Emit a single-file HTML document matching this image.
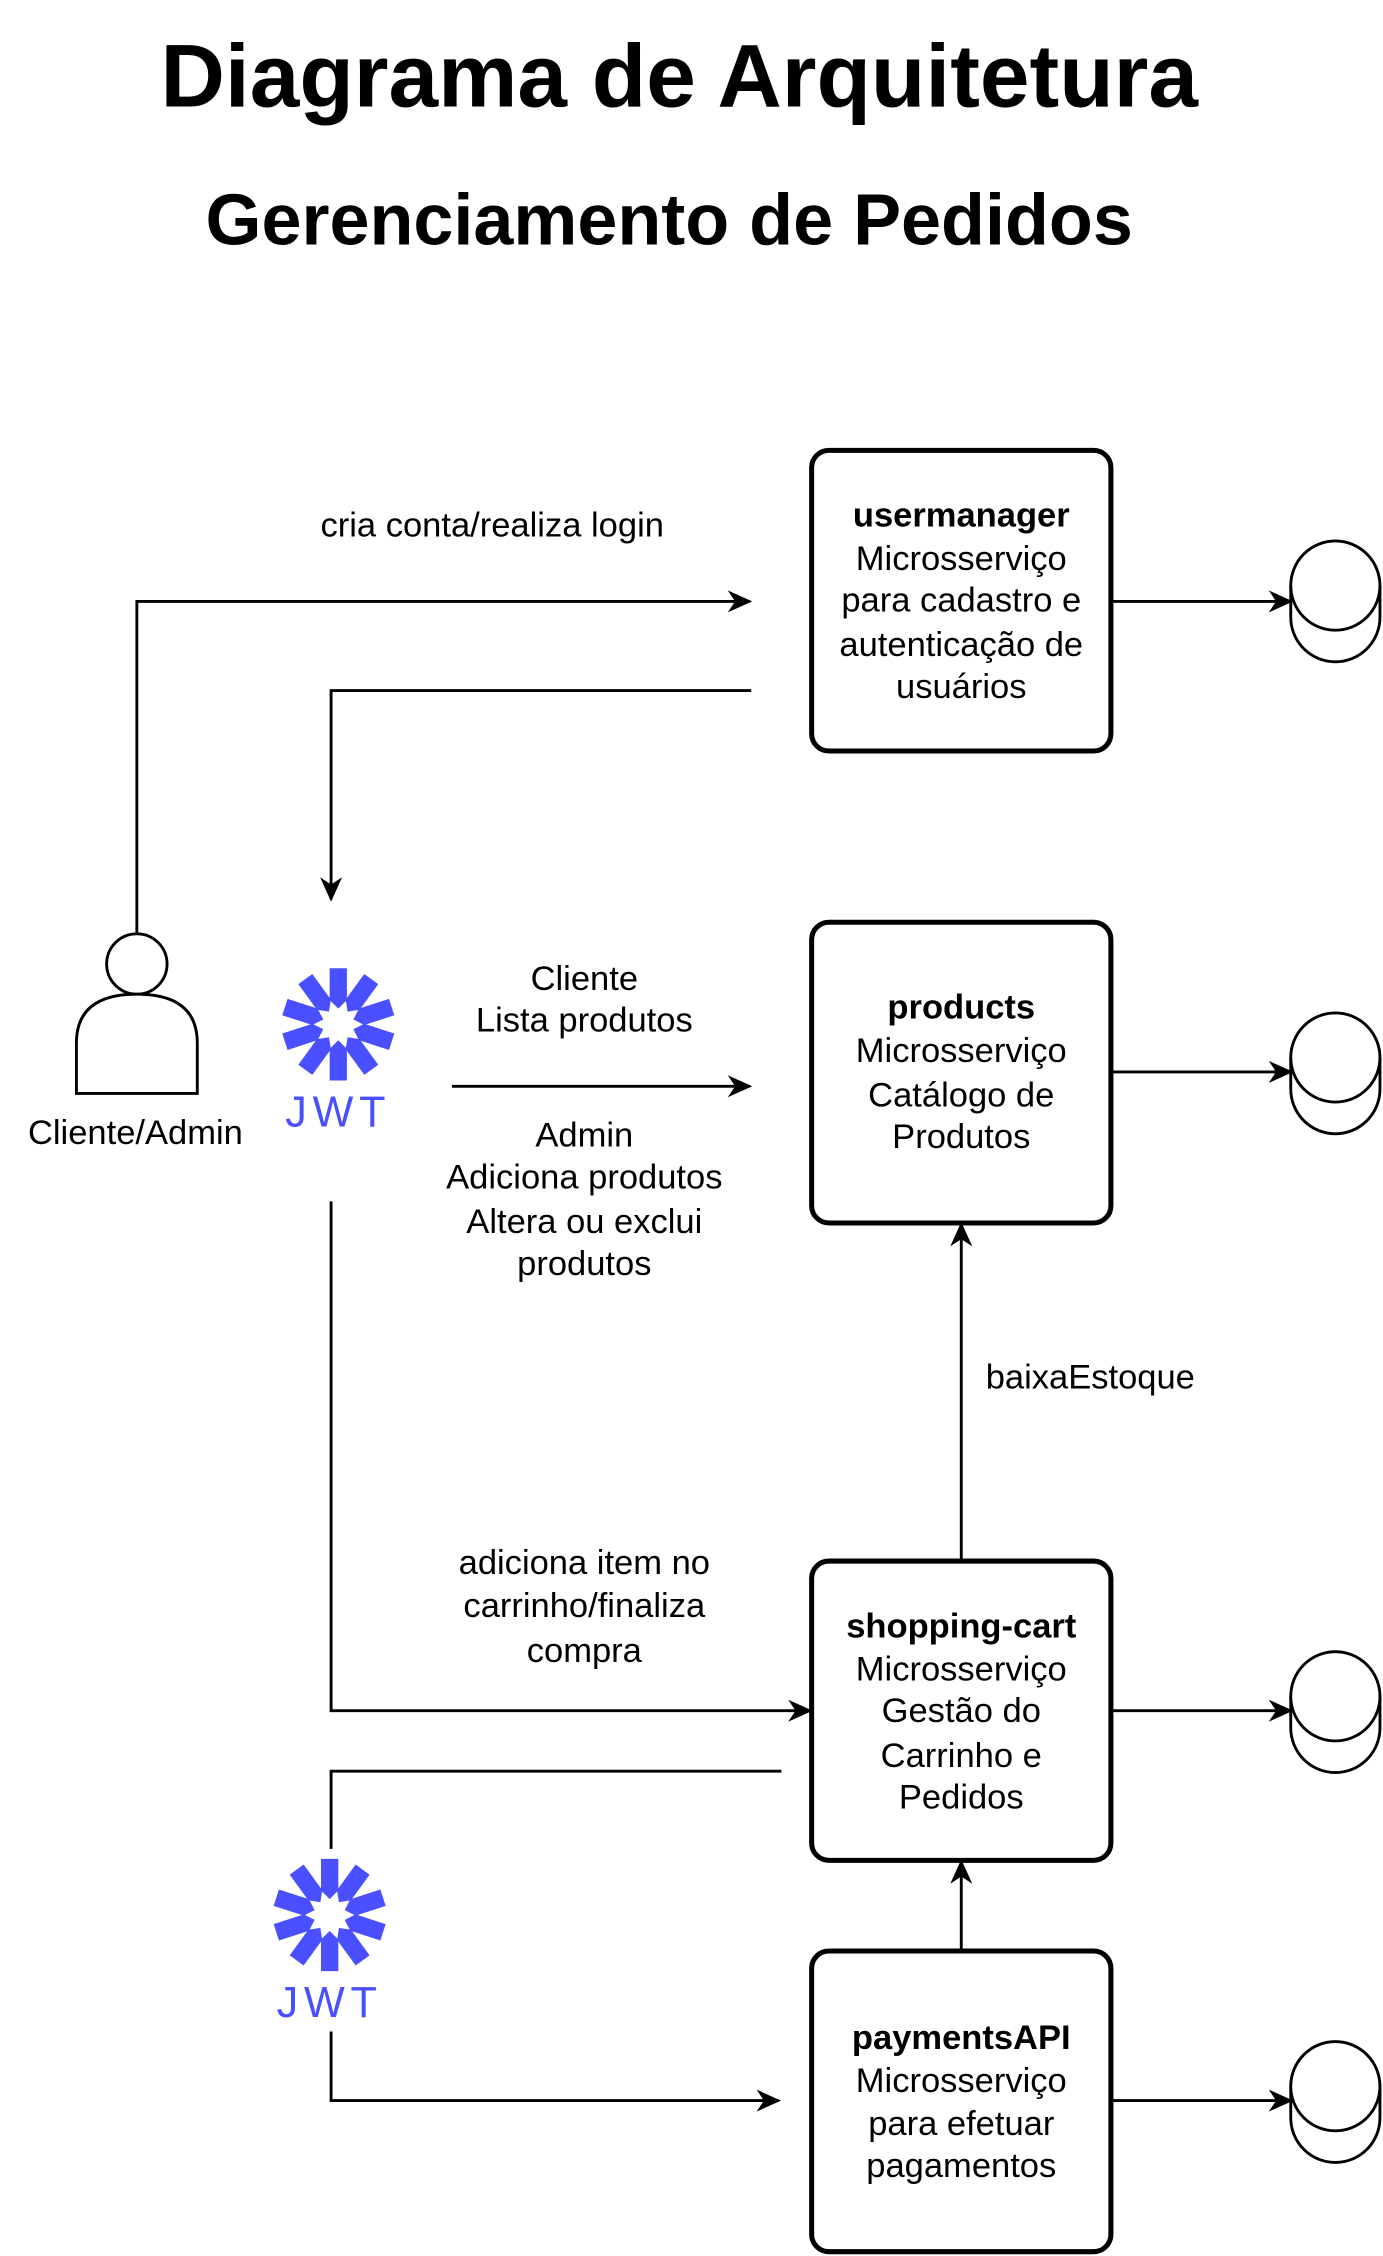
<!DOCTYPE html>
<html><head><meta charset="utf-8"><style>html,body{margin:0;padding:0;background:#fff}svg{display:block}</style></head>
<body>
<svg width="1383" height="2256" viewBox="0 0 961 1568" xmlns="http://www.w3.org/2000/svg" font-family="Liberation Sans, sans-serif">
<defs>
<marker id="a" viewBox="0 0 20 20" refX="18" refY="10" markerWidth="17" markerHeight="17" markerUnits="userSpaceOnUse" orient="auto">
<path d="M0,1 L20,10 L0,19 L6,10 Z" fill="#000"/>
</marker>
<g id="star">
<g fill="#4A50FF">
<path d="M-6,-39 L6,-39 L6,-17 L0,-11 L-6,-17 Z" transform="rotate(0)"/>
<path d="M-6,-39 L6,-39 L6,-17 L0,-11 L-6,-17 Z" transform="rotate(36)"/>
<path d="M-6,-39 L6,-39 L6,-17 L0,-11 L-6,-17 Z" transform="rotate(72)"/>
<path d="M-6,-39 L6,-39 L6,-17 L0,-11 L-6,-17 Z" transform="rotate(108)"/>
<path d="M-6,-39 L6,-39 L6,-17 L0,-11 L-6,-17 Z" transform="rotate(144)"/>
<path d="M-6,-39 L6,-39 L6,-17 L0,-11 L-6,-17 Z" transform="rotate(180)"/>
<path d="M-6,-39 L6,-39 L6,-17 L0,-11 L-6,-17 Z" transform="rotate(216)"/>
<path d="M-6,-39 L6,-39 L6,-17 L0,-11 L-6,-17 Z" transform="rotate(252)"/>
<path d="M-6,-39 L6,-39 L6,-17 L0,-11 L-6,-17 Z" transform="rotate(288)"/>
<path d="M-6,-39 L6,-39 L6,-17 L0,-11 L-6,-17 Z" transform="rotate(324)"/>
</g>
<text x="0" y="71" text-anchor="middle" font-size="30" fill="#4A50FF" letter-spacing="4">JWT</text>
</g>
<g id="db" fill="none" stroke="#000" stroke-width="2">
<path d="M-31,0 L-31,22 A31,31 0 0 0 31,22 L31,0"/>
<circle cx="0" cy="0" r="31" fill="#fff"/>
</g>
</defs>

<text x="472" y="74" text-anchor="middle" font-size="62" font-weight="bold">Diagrama de Arquitetura</text>
<text x="465" y="170" text-anchor="middle" font-size="50" font-weight="bold">Gerenciamento de Pedidos</text>

<g fill="#fff" stroke="#000" stroke-width="3.5">
<rect x="564" y="313" width="208" height="209" rx="12"/>
<rect x="564" y="641" width="208" height="209" rx="12"/>
<rect x="564" y="1085" width="208" height="208" rx="12"/>
<rect x="564" y="1356" width="208" height="209" rx="12"/>
</g>

<g font-size="24" text-anchor="middle">
<text x="668" y="366" font-weight="bold">usermanager</text>
<text x="668" y="396">Microsserviço</text>
<text x="668" y="425">para cadastro e</text>
<text x="668" y="456">autenticação de</text>
<text x="668" y="485">usuários</text>
<text x="668" y="708" font-weight="bold">products</text>
<text x="668" y="738">Microsserviço</text>
<text x="668" y="769">Catálogo de</text>
<text x="668" y="798">Produtos</text>
<text x="668" y="1138" font-weight="bold">shopping-cart</text>
<text x="668" y="1168">Microsserviço</text>
<text x="668" y="1197">Gestão do</text>
<text x="668" y="1228">Carrinho e</text>
<text x="668" y="1257">Pedidos</text>
<text x="668" y="1424" font-weight="bold">paymentsAPI</text>
<text x="668" y="1454">Microsserviço</text>
<text x="668" y="1484">para efetuar</text>
<text x="668" y="1513">pagamentos</text>

<text x="342" y="373">cria conta/realiza login</text>
<text x="94" y="795">Cliente/Admin</text>
<text x="406" y="688">Cliente</text>
<text x="406" y="717">Lista produtos</text>
<text x="406" y="797">Admin</text>
<text x="406" y="826">Adiciona produtos</text>
<text x="406" y="857">Altera ou exclui</text>
<text x="406" y="886">produtos</text>
<text x="406" y="1094">adiciona item no</text>
<text x="406" y="1124">carrinho/finaliza</text>
<text x="406" y="1155">compra</text>
<text x="685" y="965" text-anchor="start">baixaEstoque</text>
</g>

<g fill="none" stroke="#000" stroke-width="2">
<path d="M772,418 L897,418" marker-end="url(#a)"/>
<path d="M772,745 L897,745" marker-end="url(#a)"/>
<path d="M772,1189 L897,1189" marker-end="url(#a)"/>
<path d="M772,1460 L897,1460" marker-end="url(#a)"/>
<path d="M95,648 L95,418 L521,418" marker-end="url(#a)"/>
<path d="M522,480 L230,480 L230,625" marker-end="url(#a)"/>
<path d="M314,755 L521,755" marker-end="url(#a)"/>
<path d="M230,835 L230,1189 L563,1189" marker-end="url(#a)"/>
<path d="M543,1231 L230,1231 L230,1285"/>
<path d="M230,1412 L230,1460 L541,1460" marker-end="url(#a)"/>
<path d="M668,1085 L668,851" marker-end="url(#a)"/>
<path d="M668,1356 L668,1294" marker-end="url(#a)"/>
<circle cx="95" cy="670" r="21" fill="#fff"/>
<path d="M53,760 L53,725 Q53,691 95,691 Q137,691 137,725 L137,760 Z" fill="#fff"/>
</g>

<use href="#db" x="928" y="407"/>
<use href="#db" x="928" y="735"/>
<use href="#db" x="928" y="1179"/>
<use href="#db" x="928" y="1450"/>

<use href="#star" x="235" y="712"/>
<use href="#star" x="229" y="1331"/>
</svg>
</body></html>
